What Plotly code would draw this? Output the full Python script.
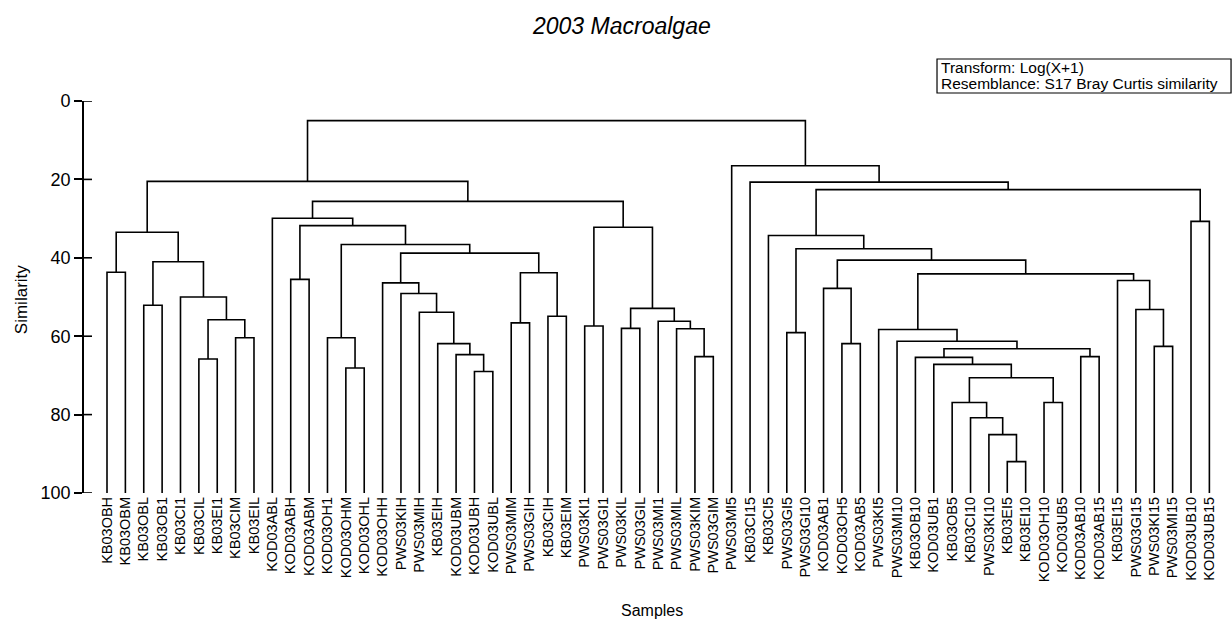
import plotly.graph_objects as go

# Sample order along the x axis (leaf order of the dendrogram)
samples = [
    "KB03OBH", "KB03OBM", "KB03OBL", "KB03OB1", "KB03CI1", "KB03CIL", "KB03EI1",
    "KB03CIM", "KB03EIL", "KOD03ABL", "KOD03ABH", "KOD03ABM", "KOD03OH1",
    "KOD03OHM", "KOD03OHL", "KOD03OHH", "PWS03KIH", "PWS03MIH", "KB03EIH",
    "KOD03UBM", "KOD03UBH", "KOD03UBL", "PWS03MIM", "PWS03GIH", "KB03CIH",
    "KB03EIM", "PWS03KI1", "PWS03GI1", "PWS03KIL", "PWS03GIL", "PWS03MI1",
    "PWS03MIL", "PWS03KIM", "PWS03GIM", "PWS03MI5", "KB03CI15", "KB03CI5",
    "PWS03GI5", "PWS03GI10", "KOD03AB1", "KOD03OH5", "KOD03AB5", "PWS03KI5",
    "PWS03MI10", "KB03OB10", "KOD03UB1", "KB03OB5", "KB03CI10", "PWS03KI10",
    "KB03EI5", "KB03EI10", "KOD03OH10", "KOD03UB5", "KOD03AB10", "KOD03AB15",
    "KB03EI15", "PWS03GI15", "PWS03KI15", "PWS03MI15", "KOD03UB10", "KOD03UB15",
]

# Group-average merges of the first main cluster: (node, child A, child B, similarity %)
merges_first = [
    ("a0", "KB03OBH", "KB03OBM", 43.7),
    ("a1", "KB03OBL", "KB03OB1", 52.1),
    ("a2", "KB03CIL", "KB03EI1", 65.8),
    ("a3", "KB03CIM", "KB03EIL", 60.4),
    ("a4", "a2", "a3", 55.8),
    ("a5", "KB03CI1", "a4", 50.0),
    ("a6", "a1", "a5", 41.0),
    ("a7", "a0", "a6", 33.5),
    ("a8", "KOD03ABH", "KOD03ABM", 45.5),
    ("a9", "KOD03OHM", "KOD03OHL", 68.1),
    ("a10", "KOD03OH1", "a9", 60.4),
    ("a11", "KOD03UBH", "KOD03UBL", 69.0),
    ("a12", "KOD03UBM", "a11", 64.7),
    ("a13", "KB03EIH", "a12", 61.9),
    ("a14", "PWS03MIH", "a13", 53.9),
    ("a15", "PWS03KIH", "a14", 49.1),
    ("a16", "KOD03OHH", "a15", 46.4),
    ("a17", "PWS03MIM", "PWS03GIH", 56.6),
    ("a18", "KB03CIH", "KB03EIM", 54.9),
    ("a19", "a17", "a18", 43.8),
    ("a20", "a16", "a19", 38.8),
    ("a21", "a10", "a20", 36.6),
    ("a22", "a8", "a21", 31.8),
    ("a23", "KOD03ABL", "a22", 29.9),
    ("a24", "PWS03KI1", "PWS03GI1", 57.4),
    ("a25", "PWS03KIL", "PWS03GIL", 58.0),
    ("a26", "PWS03KIM", "PWS03GIM", 65.2),
    ("a27", "PWS03MIL", "a26", 58.1),
    ("a28", "PWS03MI1", "a27", 56.2),
    ("a29", "a25", "a28", 52.9),
    ("a30", "a24", "a29", 32.2),
    ("a31", "a23", "a30", 25.6),
    ("a32", "a7", "a31", 20.5),
]

# Merges of the second main cluster
merges_second = [
    ("b0", "PWS03GI5", "PWS03GI10", 59.1),
    ("b1", "KOD03OH5", "KOD03AB5", 61.9),
    ("b2", "KOD03AB1", "b1", 47.8),
    ("b3", "KB03EI5", "KB03EI10", 92.0),
    ("b4", "PWS03KI10", "b3", 85.1),
    ("b5", "KB03CI10", "b4", 80.8),
    ("b6", "KB03OB5", "b5", 76.9),
    ("b7", "KOD03OH10", "KOD03UB5", 76.9),
    ("b8", "b6", "b7", 70.6),
    ("b9", "KOD03UB1", "b8", 67.2),
    ("b10", "KB03OB10", "b9", 65.4),
    ("b11", "KOD03AB10", "KOD03AB15", 65.2),
    ("b12", "b10", "b11", 63.2),
    ("b13", "PWS03MI10", "b12", 61.3),
    ("b14", "PWS03KI5", "b13", 58.3),
    ("b15", "PWS03KI15", "PWS03MI15", 62.6),
    ("b16", "PWS03GI15", "b15", 53.2),
    ("b17", "KB03EI15", "b16", 45.8),
    ("b18", "b14", "b17", 44.1),
    ("b19", "b2", "b18", 40.6),
    ("b20", "b0", "b19", 37.7),
    ("b21", "KB03CI5", "b20", 34.3),
    ("b22", "KOD03UB10", "KOD03UB15", 30.7),
    ("b23", "b21", "b22", 22.6),
    ("b24", "KB03CI15", "b23", 20.7),
    ("b25", "PWS03MI5", "b24", 16.5),
]

merge_root = [("root", "a32", "b25", 5.0)]

y_ticks = [0, 20, 40, 60, 80, 100]

# Build the dendrogram path: leaves sit at 100 % similarity
pos = {name: (i, 100.0) for i, name in enumerate(samples)}
xs, ys = [], []
for node, ca, cb, sim in merges_first + merges_second + merge_root:
    xa, ha = pos[ca]
    xb, hb = pos[cb]
    xs += [xa, xa, xb, xb, None]
    ys += [ha, sim, sim, hb, None]
    pos[node] = ((xa + xb) / 2.0, sim)

font_family = "Liberation Sans, Arial, sans-serif"
n = len(samples)
x_range = [-1.252, n - 1 + 0.85]
inner_tick = 0.435  # length of the inward half of each y tick, in leaf units

fig = go.Figure()
fig.add_trace(go.Scatter(
    x=xs, y=ys, mode="lines",
    line=dict(color="black", width=1.6),
    hoverinfo="skip", showlegend=False,
))

# inward half of the y ticks (ticks cross the axis line)
tx, ty = [], []
for t in y_ticks:
    tx += [x_range[0], x_range[0] + inner_tick, None]
    ty += [t, t, None]
fig.add_trace(go.Scatter(
    x=tx, y=ty, mode="lines", line=dict(color="black", width=1.6),
    hoverinfo="skip", showlegend=False, cliponaxis=False,
))

fig.update_layout(
    width=1232, height=632,
    margin=dict(l=84, r=7, t=101, b=139),
    paper_bgcolor="white", plot_bgcolor="white",
    font=dict(family=font_family, color="black"),
    xaxis=dict(
        range=x_range,
        tickmode="array", tickvals=list(range(n)), ticktext=samples,
        tickangle=-90, tickfont=dict(size=14.5),
        ticks="", showline=False, showgrid=False, zeroline=False,
    ),
    yaxis=dict(
        range=[100, 0], tickmode="array", tickvals=y_ticks,
        ticks="outside", ticklen=8, tickwidth=1.6, tickcolor="black",
        showline=True, linecolor="black", linewidth=1.6,
        tickfont=dict(size=18), showgrid=False, zeroline=False,
    ),
    shapes=[
        dict(type="rect", xref="paper", yref="paper",
             x0=0.7476, x1=1.0053, y0=1.0204, y1=1.1071,
             line=dict(color="black", width=1.2), fillcolor="white"),
    ],
    annotations=[
        dict(text="<i>2003 Macroalgae</i>", xref="paper", yref="paper",
             x=0.4715, y=1.191, xanchor="center", yanchor="middle",
             showarrow=False, font=dict(size=23)),
        dict(text="Similarity", xref="paper", yref="paper",
             x=-0.0552, y=0.492, xanchor="center", yanchor="middle",
             textangle=-90, showarrow=False, font=dict(size=17)),
        dict(text="Samples", xref="paper", yref="paper",
             x=0.4978, y=-0.2985, xanchor="center", yanchor="middle",
             showarrow=False, font=dict(size=16)),
        dict(text="Transform: Log(X+1)", xref="paper", yref="paper",
             x=0.7493, y=1.0842, xanchor="left", yanchor="middle",
             showarrow=False, font=dict(size=15.5)),
        dict(text="Resemblance: S17 Bray Curtis similarity",
             xref="paper", yref="paper", x=0.7493, y=1.0434,
             xanchor="left", yanchor="middle",
             showarrow=False, font=dict(size=15.5)),
    ],
)

fig.write_html("out.html")
